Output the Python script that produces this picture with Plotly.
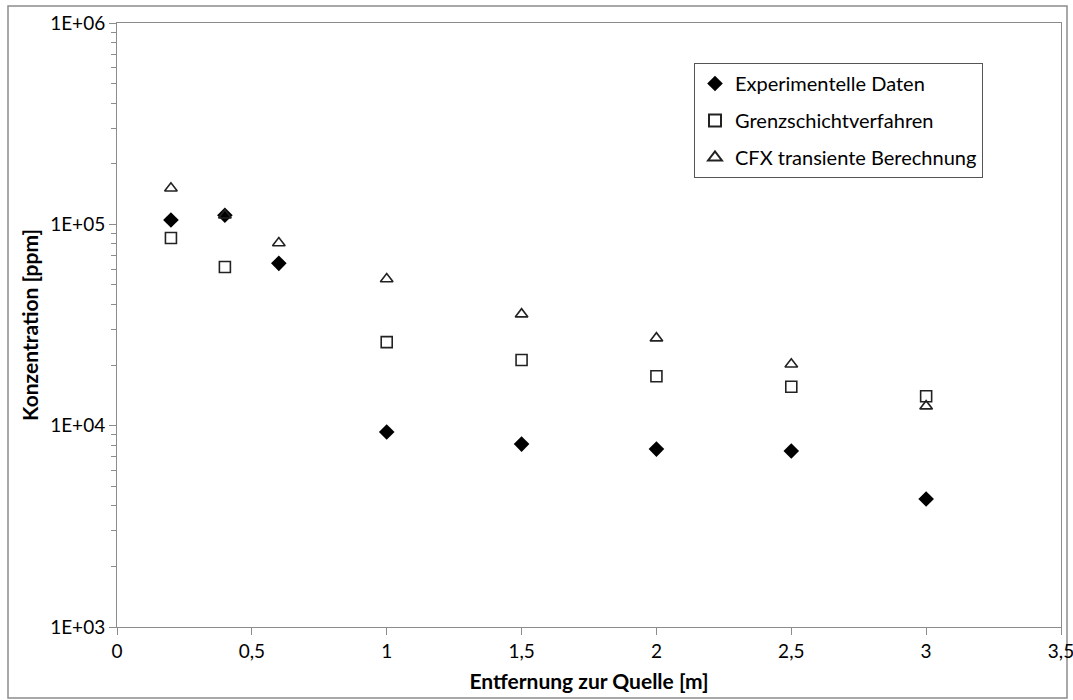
import plotly.graph_objects as go

# Data
x_exp = [0.2, 0.4, 0.6, 1.0, 1.5, 2.0, 2.5, 3.0]
y_exp = [105000, 111000, 64000, 9300, 8100, 7650, 7480, 4320]

x_grenz = [0.2, 0.4, 1.0, 1.5, 2.0, 2.5, 3.0]
y_grenz = [85500, 61400, 26000, 21200, 17600, 15600, 14000]

x_cfx = [0.2, 0.4, 0.6, 1.0, 1.5, 2.0, 2.5, 3.0]
y_cfx = [151000, 111000, 80800, 53500, 35800, 27200, 20200, 12500]

y_tickvals = [1e3, 1e4, 1e5, 1e6]
y_ticktext = ["1E+03", "1E+04", "1E+05", "1E+06"]

names = ["Experimentelle Daten", "Grenzschichtverfahren", "CFX transiente Berechnung"]

FONT = "Lato, 'Noto Sans', sans-serif"
W, H = 1073, 700
L, R, T, B = 117, 12, 23, 73

fig = go.Figure()
fig.add_trace(go.Scatter(
    x=x_exp, y=y_exp, mode="markers", name=names[0], legendgroup="a",
    marker=dict(symbol="diamond", size=12, color="black", line=dict(width=0)),
))
fig.add_trace(go.Scatter(
    x=x_grenz, y=y_grenz, mode="markers", name=names[1], legendgroup="b",
    marker=dict(symbol="square-open", size=11, color="#222222", line=dict(width=1.6)),
))
fig.add_trace(go.Scatter(
    x=x_cfx, y=y_cfx, mode="markers", name=names[2], legendgroup="c",
    marker=dict(symbol="triangle-up-open", size=11, color="#222222", line=dict(width=1.6)),
))

pw = W - L - R
ph = H - T - B
fig.add_shape(
    type="rect", xref="paper", yref="paper",
    x0=(8 - L) / pw, x1=(W - 6 - L) / pw,
    y0=(H - T - B - (H - 2 - T)) / ph, y1=(H - T - B - (6 - T)) / ph,
    line=dict(color="#8c8c8c", width=1.5), fillcolor="rgba(0,0,0,0)", layer="below",
)

fig.update_layout(
    width=W, height=H,
    margin=dict(l=L, r=R, t=T, b=B, autoexpand=False),
    paper_bgcolor="white", plot_bgcolor="white",
    separators=", ",
    font=dict(family=FONT, size=19, color="black"),
    showlegend=True,
    legend=dict(
        x=(694 - L) / pw, y=(H - B - 63) / ph, xanchor="left", yanchor="top",
        bordercolor="#555555", borderwidth=1, bgcolor="white",
        font=dict(family=FONT, size=20, color="black"),
        tracegroupgap=8, traceorder="grouped", itemsizing="constant",
    ),
    xaxis=dict(
        range=[0, 3.5], dtick=0.5, tick0=0, automargin=False,
        ticklabeloverflow="allow",
        showline=True, linecolor="#8c8c8c", linewidth=1, mirror=True,
        ticks="outside", ticklen=7, tickcolor="#8c8c8c",
        showgrid=False, zeroline=False,
        tickfont=dict(family=FONT, size=19),
        title=dict(text="<b>Entfernung zur Quelle [m]</b>", font=dict(family=FONT, size=21), standoff=13),
    ),
    yaxis=dict(
        type="log", range=[3, 6], automargin=False,
        tickvals=y_tickvals, ticktext=y_ticktext,
        showline=True, linecolor="#8c8c8c", linewidth=1, mirror=True,
        ticks="outside", ticklen=7, tickcolor="#8c8c8c",
        minor=dict(ticks="outside", ticklen=5, tickcolor="#8c8c8c", dtick="D1", showgrid=False),
        showgrid=False, zeroline=False,
        tickfont=dict(family=FONT, size=19),
        title=dict(text="<b>Konzentration [ppm]</b>", font=dict(family=FONT, size=21), standoff=5),
    ),
)

fig.write_html(
    "out.html",
    config={"displayModeBar": False},
    post_script="document.body.style.margin='0';document.body.style.padding='0';document.body.style.overflow='hidden';",
)
